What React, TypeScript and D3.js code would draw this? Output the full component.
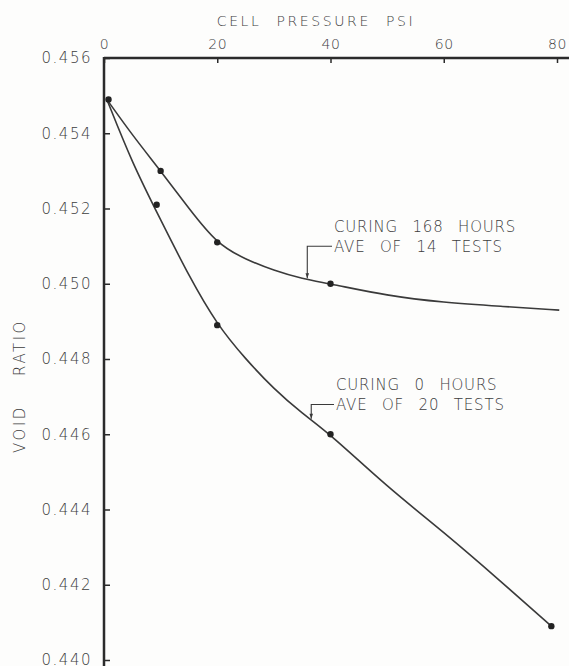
import { useEffect, useRef } from 'react';
import * as d3 from 'd3';

const W = 569;
const H = 666;

// axis ticks
const X_TICKS = [0, 20, 40, 60, 80];
const Y_TICKS = [0.456, 0.454, 0.452, 0.45, 0.448, 0.446, 0.444, 0.442, 0.44];

// test points  [cell pressure psi, void ratio]
const PTS_168H: [number, number][] = [
  [0.8, 0.4549], [10, 0.453], [20, 0.4511], [40, 0.45],
];
const PTS_0H: [number, number][] = [
  [9.3, 0.4521], [20, 0.4489], [40, 0.446], [79, 0.4409],
];

// faired curves as drawn on the sheet
const CURVE_168H: [number, number][] = [
  [0.5, 0.4549], [5, 0.45395], [10, 0.453], [15, 0.452], [20, 0.45105], [25, 0.45065],
  [30, 0.45035], [35, 0.45013], [40, 0.45], [50, 0.44968], [60, 0.4495], [70, 0.4494], [80.4, 0.4493],
];
const CURVE_0H: [number, number][] = [
  [0.5, 0.4549], [5, 0.4532], [10, 0.4517], [15, 0.4502], [20, 0.4489], [25, 0.448],
  [30, 0.4472], [35, 0.44655], [40, 0.446], [50, 0.4446], [60, 0.4434], [70, 0.4421], [79, 0.4409],
];

const LABEL_168H = ['CURING 168 HOURS', 'AVE OF 14 TESTS'];
const LABEL_0H = ['CURING 0 HOURS', 'AVE OF 20 TESTS'];

const FONT = "'DejaVu Sans', 'Noto Sans', sans-serif";
const INK = '#2b2b2b';
const TEXT = '#3c3c3c';

export default function App() {
  const svgRef = useRef<SVGSVGElement>(null);

  useEffect(() => {
    if (!svgRef.current) return;
    const svg = d3.select(svgRef.current);
    svg.selectAll('*').remove();

    const x = d3.scaleLinear().domain([0, 80]).range([104, 557]);
    const y = d3.scaleLinear().domain([0.44, 0.456]).range([660, 58]);

    svg.append('rect').attr('width', W).attr('height', H).attr('fill', '#fdfdfc');

    // top axis (cell pressure)
    const top = svg.append('g')
      .attr('transform', `translate(0,${y(0.456)})`)
      .call(d3.axisTop(x).tickValues(X_TICKS).tickSize(-5).tickPadding(9).tickFormat(d3.format('d')));
    top.select('.domain').remove();
    top.selectAll('line').attr('stroke', INK).attr('stroke-width', 1.5);
    top.selectAll('text')
      .attr('font-family', FONT).attr('font-weight', 200).attr('font-size', 14)
      .attr('fill', TEXT).attr('letter-spacing', 0.5);

    // left axis (void ratio)
    const left = svg.append('g')
      .attr('transform', `translate(${x(0)},0)`)
      .call(d3.axisLeft(y).tickValues(Y_TICKS).tickSize(-6).tickPadding(12).tickFormat(d3.format('.3f')));
    left.select('.domain').remove();
    left.selectAll('line').attr('stroke', INK).attr('stroke-width', 1.5);
    left.selectAll('text')
      .attr('font-family', FONT).attr('font-weight', 200).attr('font-size', 15)
      .attr('fill', TEXT).attr('letter-spacing', 1.5);

    // axis frame lines
    svg.append('line')
      .attr('x1', x(0)).attr('x2', W).attr('y1', y(0.456)).attr('y2', y(0.456))
      .attr('stroke', INK).attr('stroke-width', 2.5);
    svg.append('line')
      .attr('x1', x(0)).attr('x2', x(0)).attr('y1', y(0.456) - 1).attr('y2', H)
      .attr('stroke', INK).attr('stroke-width', 2.5);

    // axis titles
    svg.append('text')
      .attr('x', 316).attr('y', 26)
      .attr('text-anchor', 'middle')
      .attr('font-family', FONT).attr('font-weight', 200).attr('font-size', 14)
      .attr('letter-spacing', 2.6).attr('word-spacing', 8)
      .attr('fill', TEXT)
      .text('CELL PRESSURE PSI');

    svg.append('text')
      .attr('transform', 'translate(25,386) rotate(-90)')
      .attr('text-anchor', 'middle')
      .attr('font-family', FONT).attr('font-weight', 200).attr('font-size', 15)
      .attr('letter-spacing', 2.5).attr('word-spacing', 22)
      .attr('fill', TEXT)
      .text('VOID RATIO');

    // curves
    const line = d3.line<[number, number]>()
      .x((d) => x(d[0]))
      .y((d) => y(d[1]))
      .curve(d3.curveBasis);

    [CURVE_168H, CURVE_0H].forEach((c) => {
      svg.append('path')
        .attr('d', line(c))
        .attr('fill', 'none')
        .attr('stroke', '#3a3a3a')
        .attr('stroke-width', 1.6);
    });

    // test points
    svg.append('g')
      .selectAll('circle')
      .data([...PTS_168H, ...PTS_0H])
      .join('circle')
      .attr('cx', (d) => x(d[0]))
      .attr('cy', (d) => y(d[1]))
      .attr('r', 3.2)
      .attr('fill', '#222');

    // curve labels with leader lines
    const curveAt = (c: [number, number][], p: number) => {
      const i = d3.bisector((d: [number, number]) => d[0]).right(c, p);
      const a = c[i - 1], b = c[i];
      return a[1] + (b[1] - a[1]) * (p - a[0]) / (b[0] - a[0]);
    };

    const labels = [
      { lines: LABEL_168H, curve: CURVE_168H, at: 35.9, tx: 334, ty: 231.7 },
      { lines: LABEL_0H, curve: CURVE_0H, at: 36.6, tx: 336, ty: 390 },
    ];

    labels.forEach((l) => {
      const lx = x(l.at);
      const ly = l.ty + 20 - 5.5;
      const cy = y(curveAt(l.curve, l.at)) - 1.5;
      svg.append('path')
        .attr('d', `M${l.tx - 2},${ly}H${lx}V${cy}`)
        .attr('fill', 'none')
        .attr('stroke', '#3a3a3a')
        .attr('stroke-width', 1.1);
      svg.append('path')
        .attr('d', `M${lx - 1.8},${cy - 5}L${lx + 1.8},${cy - 5}L${lx},${cy}Z`)
        .attr('fill', '#3a3a3a');

      const t = svg.append('text')
        .attr('font-family', FONT).attr('font-weight', 200).attr('font-size', 15)
        .attr('letter-spacing', 0.8).attr('word-spacing', 9)
        .attr('fill', TEXT);
      l.lines.forEach((s, i) => {
        t.append('tspan').attr('x', l.tx).attr('y', l.ty + i * 20).text(s);
      });
    });
  }, []);

  return (
    <svg
      ref={svgRef}
      width={W}
      height={H}
      style={{ position: 'absolute', left: 0, top: 0, display: 'block' }}
    />
  );
}
